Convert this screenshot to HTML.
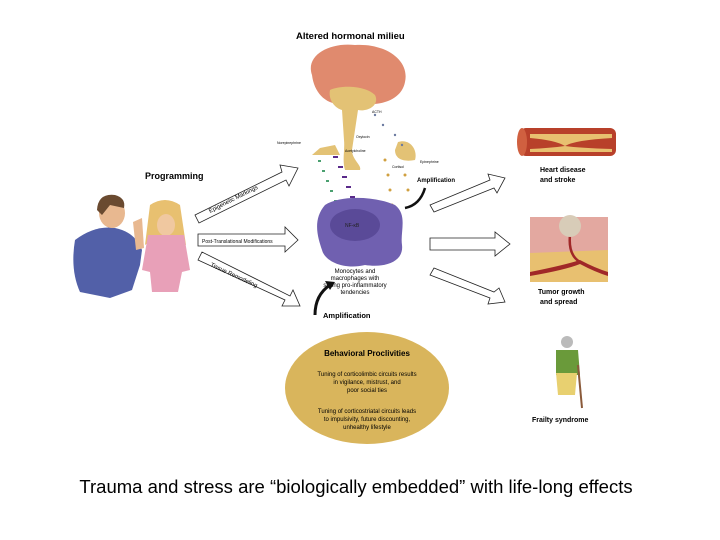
<!DOCTYPE html><html><head><style>body{margin:0;background:#fff}svg{display:block}text{font-family:"Liberation Sans",sans-serif}</style></head><body>
<svg width="720" height="540" viewBox="0 0 720 540">
<text x="296" y="39" font-size="9.5" font-weight="bold">Altered hormonal milieu</text>
<path d="M312 75 C305 55 330 42 355 45 C385 43 410 60 405 82 C402 98 385 104 372 104 C360 106 350 103 340 104 C325 104 314 92 312 75Z" fill="#e08a6e"/>
<path d="M330 90 C340 85 365 85 375 95 C380 105 368 112 358 110 L352 150 C352 160 362 165 360 170 L345 170 C342 160 345 150 344 140 L342 110 C335 108 328 100 330 90Z" fill="#e3c275"/>
<path d="M335 145 L320 148 L312 155 L340 155Z" fill="#e3c275"/>
<path d="M398 142 C410 138 418 150 415 160 C405 162 395 160 395 150Z" fill="#e3c275"/>
<g fill="#6b7aa0"><circle cx="375" cy="115" r="1.2"/><circle cx="383" cy="125" r="1.2"/><circle cx="395" cy="135" r="1.2"/><circle cx="402" cy="145" r="1.2"/></g>
<g fill="#4aa070"><rect x="318" y="160" width="3" height="2"/><rect x="322" y="170" width="3" height="2"/><rect x="326" y="180" width="3" height="2"/><rect x="330" y="190" width="3" height="2"/><rect x="334" y="200" width="3" height="2"/></g>
<g fill="#5a2a8a"><rect x="333" y="156" width="5" height="2"/><rect x="338" y="166" width="5" height="2"/><rect x="342" y="176" width="5" height="2"/><rect x="346" y="186" width="5" height="2"/><rect x="350" y="196" width="5" height="2"/><rect x="350" y="206" width="5" height="2"/></g>
<g fill="#d0a040"><circle cx="385" cy="160" r="1.5"/><circle cx="388" cy="175" r="1.5"/><circle cx="390" cy="190" r="1.5"/><circle cx="392" cy="205" r="1.5"/><circle cx="405" cy="175" r="1.5"/><circle cx="408" cy="190" r="1.5"/></g>
<text x="277" y="144" font-size="3.5">Norepinephrine</text><text x="345" y="152" font-size="3.5">Acetylcholine</text>
<text x="356" y="138" font-size="3.5">Oxytocin</text><text x="372" y="113" font-size="3.5">ACTH</text>
<text x="420" y="163" font-size="3.5">Epinephrine</text><text x="392" y="168" font-size="3.5">Cortisol</text>
<text x="417" y="182" font-size="6" font-weight="bold">Amplification</text>
<path d="M425 188 Q420 205 405 208" stroke="#111" stroke-width="2.5" fill="none"/>
<path d="M325 205 C340 195 375 196 395 205 C408 215 400 232 402 245 C404 262 385 268 365 265 C345 270 325 262 322 250 C318 238 312 220 325 205Z" fill="#7060b0"/>
<ellipse cx="355" cy="225" rx="25" ry="16" fill="#5a4a98"/>
<text x="345" y="227" font-size="5" fill="#222">NF-κB</text>
<text x="355" y="273" font-size="6" text-anchor="middle">Monocytes and</text>
<text x="355" y="280" font-size="6" text-anchor="middle">macrophages with</text>
<text x="355" y="287" font-size="6" text-anchor="middle">strong pro-inflammatory</text>
<text x="355" y="294" font-size="6" text-anchor="middle">tendencies</text>
<path d="M315 315 Q315 295 330 285" stroke="#111" stroke-width="3" fill="none"/><path d="M325 281 L335 282 L330 290Z" fill="#111"/>
<text x="323" y="318" font-size="7.5" font-weight="bold">Amplification</text>
<ellipse cx="367" cy="388" rx="82" ry="56" fill="#d9b55c"/>
<text x="367" y="356" font-size="8" font-weight="bold" text-anchor="middle">Behavioral Proclivities</text>
<g font-size="6" text-anchor="middle"><text x="367" y="376">Tuning of corticolimbic circuits results</text><text x="367" y="384">in vigilance, mistrust, and</text><text x="367" y="392">poor social ties</text>
<text x="367" y="413">Tuning of corticostriatal circuits leads</text><text x="367" y="421">to impulsivity, future discounting,</text><text x="367" y="429">unhealthy lifestyle</text></g>
<text x="145" y="179" font-size="9" font-weight="bold">Programming</text>
<g fill="none" stroke="#222" stroke-width="0.8">
<path d="M195 215 L282 172 L280 165 L298 168 L289 186 L286 180 L199 223Z"/>
<path d="M198 234 L285 234 L285 227 L298 240 L285 252 L285 246 L198 246Z"/>
<path d="M198 260 L285 300 L282 306 L300 306 L293 290 L290 296 L202 252Z"/>
<path d="M430 205 L490 180 L488 174 L505 178 L497 193 L494 188 L434 212Z"/>
<path d="M430 238 L495 238 L495 232 L510 244 L495 256 L495 250 L430 250Z"/>
<path d="M430 275 L490 298 L488 304 L505 302 L499 288 L494 292 L434 268Z"/>
</g>
<text x="210" y="213" font-size="6" transform="rotate(-27 210 213)">Epigenetic Markings</text>
<text x="202" y="243" font-size="5">Post-Translational Modifications</text>
<text x="210" y="266" font-size="6" transform="rotate(25 210 266)">Tissue Remodeling</text>
<path d="M75 240 Q95 225 115 228 Q135 232 142 250 L140 265 L132 290 L110 298 L80 292 Q70 270 75 240Z" fill="#5260a8"/>
<ellipse cx="112" cy="213" rx="13" ry="15" fill="#e8b890"/>
<path d="M97 210 Q98 193 115 195 Q126 198 124 208 L110 205 L102 215Z" fill="#6a4a30"/>
<path d="M133 222 L142 218 L144 248 L136 250Z" fill="#e8b890"/>
<path d="M150 205 Q165 195 180 205 L186 245 L178 240 L152 240 L145 245Z" fill="#e8c070"/>
<ellipse cx="166" cy="225" rx="9" ry="11" fill="#f0c8a0"/>
<path d="M148 235 L184 235 L190 270 L182 272 L178 292 L152 292 L150 272 L142 270Z" fill="#e8a0b8"/>
<!-- artery -->
<rect x="520" y="128" width="96" height="28" rx="6" fill="#b8402a"/>
<ellipse cx="522" cy="142" rx="5" ry="14" fill="#d06040"/>
<path d="M530 134 L612 134 L612 138 Q575 140 565 146 Q555 140 530 138Z M530 152 L612 152 L612 149 Q580 148 565 146 Q550 148 530 149Z" fill="#e8c070"/>
<text x="540" y="172" font-size="7" font-weight="bold">Heart disease</text><text x="540" y="182" font-size="7" font-weight="bold">and stroke</text>
<!-- tumor -->
<rect x="530" y="217" width="78" height="65" fill="#e3a8a0"/>
<path d="M530 253 L608 250 L608 282 L530 282Z" fill="#e8c070"/>
<path d="M530 272 Q565 265 580 260 Q595 268 608 272 L608 276 Q595 272 580 264 Q565 270 530 276Z" fill="#a02828"/>
<path d="M570 235 Q568 255 580 262" stroke="#a02828" stroke-width="2.5" fill="none"/>
<circle cx="570" cy="226" r="11" fill="#d8ccb8"/>
<text x="538" y="294" font-size="7" font-weight="bold">Tumor growth</text><text x="540" y="304" font-size="7" font-weight="bold">and spread</text>
<circle cx="567" cy="342" r="6" fill="#bbb"/><path d="M556 350 L578 350 L580 375 L556 375Z" fill="#6a9a3a"/><path d="M556 373 L577 373 L575 395 L558 395Z" fill="#e8d070"/><path d="M578 365 L582 408" stroke="#8a5a3a" stroke-width="2"/>
<text x="532" y="422" font-size="7" font-weight="bold">Frailty syndrome</text>
<text x="356" y="493" font-size="18.5" text-anchor="middle">Trauma and stress are “biologically embedded” with life-long effects</text>
</svg></body></html>
